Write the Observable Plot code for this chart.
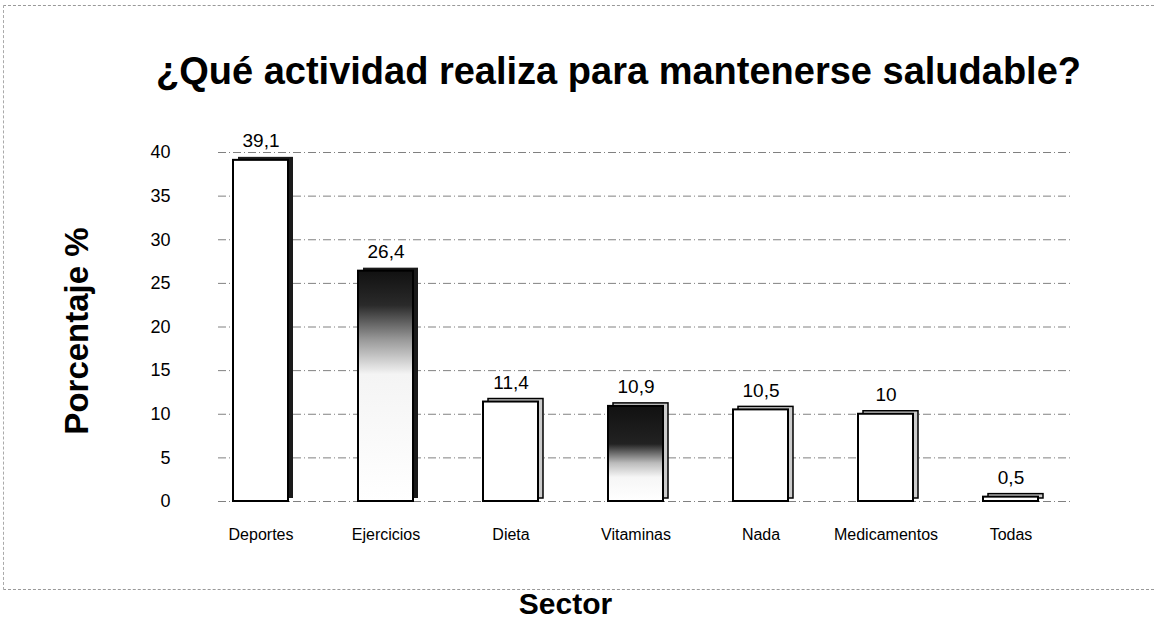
<!DOCTYPE html>
<html><head><meta charset="utf-8">
<script src="https://cdn.jsdelivr.net/npm/d3@7"></script>
<script src="https://cdn.jsdelivr.net/npm/@observablehq/plot@0.6"></script>
<style>
body{margin:0;background:#fff;font-family:"Liberation Sans",Arial,sans-serif;}
#wrap{position:relative;width:1160px;height:623px;overflow:hidden;}
#border{position:absolute;left:3px;top:5px;width:1150px;height:583px;border-top:1px dashed #999;border-left:1px dashed #aaa;border-bottom:1px dashed #999;}
</style></head>
<body><div id="wrap"><div id="border"></div></div>
<script>
const categories = ["Deportes","Ejercicios","Dieta","Vitaminas","Nada","Medicamentos","Todas"];
const values = [39.1, 26.4, 11.4, 10.9, 10.5, 10, 0.5];
const yTicks = [0,5,10,15,20,25,30,35,40];
const title = "¿Qué actividad realiza para mantenerse saludable?";
const yLabel = "Porcentaje %";
const xLabel = "Sector";

const data = categories.map((c,i)=>({cat:c, val:values[i]}));
const fmt = v => String(v).replace(".", ",");

const plot = Plot.plot({
  width:1160, height:623,
  marginTop:152, marginBottom:122, marginLeft:190, marginRight:80,
  style:{fontFamily:"'Liberation Sans', Arial, sans-serif", background:"transparent", color:"#000"},
  x:{domain:categories, paddingInner:0.56, paddingOuter:0.33, label:null},
  y:{domain:[0,40], label:null},
  marks:[
    Plot.ruleY(yTicks, {stroke:"#555", strokeWidth:1, strokeDasharray:"8,3,1,3", strokeOpacity:0.75, insetLeft:28, insetRight:8}),
    Plot.axisY({ticks:yTicks, tickSize:0, tickPadding:20, fontSize:18, tickFormat:d=>d}),
    Plot.axisX({tickSize:0, tickPadding:27, fontSize:16}),
    Plot.barY(data, {filter:d=>d.cat==="Deportes"||d.cat==="Ejercicios", x:"cat", y:"val", fill:"#1a1a1a", dx:5, dy:-3}),
    Plot.barY(data, {filter:d=>!(d.cat==="Deportes"||d.cat==="Ejercicios"), x:"cat", y:"val", fill:"#ccc", stroke:"#000", strokeWidth:1.5, dx:5, dy:-3}),
    Plot.barY(data, {filter:d=>d.cat!=="Ejercicios"&&d.cat!=="Vitaminas", x:"cat", y:"val", fill:"#fff", stroke:"#000", strokeWidth:2}),
    Plot.barY(data, {filter:d=>d.cat==="Ejercicios", x:"cat", y:"val", fill:"url(#gradE)", stroke:"#000", strokeWidth:2}),
    Plot.barY(data, {filter:d=>d.cat==="Vitaminas", x:"cat", y:"val", fill:"url(#gradV)", stroke:"#000", strokeWidth:2}),
    Plot.text(data, {x:"cat", y:"val", text:d=>fmt(d.val), dy:-19, fontSize:19}),
    Plot.text([title], {frameAnchor:"top", dy:-95, dx:-17, fontSize:38, fontWeight:"bold"}),
    Plot.text([xLabel], {frameAnchor:"bottom", dy:112, dx:-70, fontSize:30, fontWeight:"bold"}),
    Plot.text([yLabel], {frameAnchor:"left", textAnchor:"middle", dx:-113, dy:4, rotate:-90, fontSize:33, fontWeight:"bold"})
  ]
});

const svgNS = "http://www.w3.org/2000/svg";
const defs = document.createElementNS(svgNS, "defs");
defs.innerHTML = `<linearGradient id="gradE" x1="0" y1="0" x2="0" y2="1">
  <stop offset="0" stop-color="#111"/>
  <stop offset="0.15" stop-color="#2a2a2a"/>
  <stop offset="0.3" stop-color="#999"/>
  <stop offset="0.45" stop-color="#f4f4f4"/>
  <stop offset="1" stop-color="#fff"/>
</linearGradient>
<linearGradient id="gradV" x1="0" y1="0" x2="0" y2="1">
  <stop offset="0" stop-color="#111"/>
  <stop offset="0.4" stop-color="#222"/>
  <stop offset="0.6" stop-color="#bbb"/>
  <stop offset="0.75" stop-color="#f6f6f6"/>
  <stop offset="1" stop-color="#fff"/>
</linearGradient>`;
plot.insertBefore(defs, plot.firstChild);
plot.style.position = "absolute";
plot.style.left = "0"; plot.style.top = "0";
document.getElementById("wrap").appendChild(plot);
</script>
</body></html>
